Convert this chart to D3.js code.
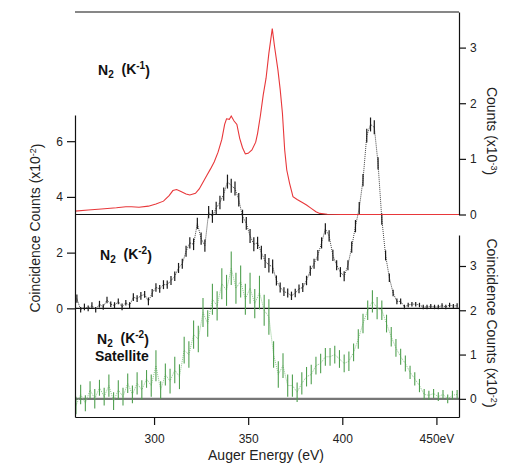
<!DOCTYPE html>
<html>
<head>
<meta charset="utf-8">
<script src="https://cdn.jsdelivr.net/npm/d3@7"></script>
<style>
  body { margin: 0; background: #fff; }
  svg { font-family: 'Liberation Sans', Arial, sans-serif; }
  .axis text { font-size: 12px; fill: #222; }
  .axis path, .axis line { stroke: #111; stroke-width: 1.2; }
</style>
</head>
<body>
<svg id="chart" width="505" height="466"></svg>
<script>
// N2 (K^-1) Auger spectrum, counts x10^-3
const redEnergy = [258, 265, 272, 280, 285, 288, 292, 297, 301, 305, 308, 310, 312, 314, 317, 319,
  322, 324, 326, 328, 330, 332, 334, 336, 337.5, 338.5, 340, 341, 342.5, 344, 345.5, 347, 348.5,
  350, 352, 354, 355, 356.5, 358, 359.5, 361, 362.8, 364, 365.8, 367, 368.2, 369.4, 370.5, 372,
  373.8, 376, 379, 381, 383.5, 386, 388, 392, 400, 462];
const redCounts = [0.06, 0.08, 0.10, 0.12, 0.14, 0.14, 0.13, 0.15, 0.19, 0.24, 0.34, 0.43, 0.45, 0.42, 0.37, 0.35,
  0.38, 0.46, 0.58, 0.70, 0.82, 0.95, 1.12, 1.35, 1.62, 1.72, 1.71, 1.77, 1.68, 1.62, 1.37, 1.20, 1.09,
  1.10, 1.16, 1.30, 1.46, 1.78, 2.15, 2.45, 2.90, 3.34, 3.02, 2.60, 2.25, 1.82, 1.16, 0.80, 0.56,
  0.32, 0.27, 0.21, 0.17, 0.11, 0.05, 0.02, 0.005, 0, 0];

// N2 (K^-2) coincidence counts x10^-2, 2 eV bins from 259 eV
const k2Start = 259, k2Step = 2;
const k2Counts = [
  0.35, -0.05, 0.05, 0.0, 0.1, -0.05, 0.15, 0.05, 0.3, 0.15,
  0.1, 0.25, 0.05, 0.2, 0.1, 0.4, 0.35, 0.45, 0.5, 0.25,
  0.55, 0.75, 0.7, 0.85, 0.85, 1.0, 1.15, 1.45, 1.6, 2.05,
  2.35, 2.3, 3.05, 2.5, 2.25, 3.45, 3.3, 3.6, 3.8, 4.1,
  4.55, 4.4, 4.3, 3.9, 3.3, 3.05, 2.6, 2.3, 2.35, 2.0,
  1.7, 1.55, 1.5, 1.0, 0.75, 0.6, 0.55, 0.45, 0.55, 0.7,
  0.75, 1.0, 1.35, 1.6, 1.9, 2.35, 2.85, 2.6, 1.9, 1.55,
  1.3, 1.15, 1.55, 2.2, 2.95, 3.6, 4.6, 6.2, 6.6, 6.5,
  5.2, 3.2, 1.9, 1.1, 0.55, 0.25, 0.25, 0.05, 0.12, 0.15,
  0.15, 0.12, 0.05, 0.05, 0.08, 0.05, 0.05, 0.1, 0.05, 0.12,
  0.08, 0.1];
const k2Errors = [
  0.15, 0.1, 0.12, 0.1, 0.12, 0.1, 0.12, 0.1, 0.12, 0.1,
  0.12, 0.1, 0.12, 0.1, 0.12, 0.14, 0.12, 0.14, 0.12, 0.14,
  0.14, 0.15, 0.14, 0.16, 0.15, 0.16, 0.17, 0.18, 0.18, 0.2,
  0.2, 0.21, 0.2, 0.22, 0.22, 0.22, 0.23, 0.23, 0.24, 0.24,
  0.25, 0.25, 0.25, 0.24, 0.24, 0.23, 0.25, 0.25, 0.22, 0.25,
  0.25, 0.26, 0.25, 0.18, 0.18, 0.16, 0.16, 0.15, 0.15, 0.16,
  0.16, 0.17, 0.18, 0.18, 0.19, 0.2, 0.2, 0.2, 0.2, 0.18,
  0.18, 0.18, 0.18, 0.2, 0.22, 0.22, 0.22, 0.25, 0.25, 0.25,
  0.22, 0.2, 0.18, 0.15, 0.12, 0.1, 0.1, 0.08, 0.08, 0.08,
  0.08, 0.08, 0.08, 0.08, 0.08, 0.08, 0.08, 0.08, 0.08, 0.08,
  0.08, 0.08];

// N2 (K^-2) satellite coincidence counts x10^-2, 2.5 eV bins from 258.5 eV
const satStart = 258.5, satStep = 2.5;
const satCounts = [
  -0.15, 0.1, -0.1, 0.2, 0.0, 0.25, 0.05, 0.3, -0.05, 0.2,
  0.05, 0.35, 0.1, 0.35, 0.2, 0.45, 0.3, 0.75, 0.2, 0.55,
  0.4, 0.65, 0.5, 1.1, 1.0, 1.45, 1.35, 1.95, 1.7, 2.25,
  2.1, 2.6, 2.45, 2.95, 2.5, 2.65, 2.25, 2.5, 2.15, 2.4,
  2.0, 1.85, 1.0, 0.55, 0.75, 0.3, 0.3, 0.15, 0.35, 0.5,
  0.55, 0.75, 0.8, 0.95, 0.95, 1.0, 0.9, 0.8, 0.85, 1.05,
  1.35, 1.7, 2.0, 2.2, 2.05, 2.0, 1.7, 1.4, 1.15, 0.95,
  0.8, 0.6, 0.45, 0.3, 0.1, 0.08, 0.12, 0.05, 0.1, 0.0,
  0.08, 0.1];
const satErrors = [
  0.2, 0.22, 0.18, 0.2, 0.22, 0.18, 0.2, 0.25, 0.2, 0.22,
  0.2, 0.22, 0.2, 0.25, 0.22, 0.2, 0.25, 0.35, 0.2, 0.25,
  0.28, 0.3, 0.28, 0.3, 0.3, 0.32, 0.3, 0.33, 0.3, 0.35,
  0.33, 0.35, 0.35, 0.38, 0.35, 0.36, 0.35, 0.35, 0.33, 0.38,
  0.35, 0.4, 0.3, 0.3, 0.28, 0.25, 0.25, 0.22, 0.25, 0.22,
  0.22, 0.2, 0.22, 0.2, 0.2, 0.2, 0.2, 0.2, 0.22, 0.2,
  0.22, 0.22, 0.22, 0.25, 0.25, 0.22, 0.2, 0.22, 0.2, 0.18,
  0.18, 0.15, 0.15, 0.15, 0.12, 0.1, 0.1, 0.1, 0.1, 0.1,
  0.1, 0.1];

const xTicks = [300, 350, 400, 450];
const redTicks = [0, 1, 2, 3];
const k2Ticks = [0, 2, 4, 6];
const satTicks = [0, 1, 2, 3];

const svg = d3.select('#chart');
const plotLeft = 75, plotRight = 459, plotTop = 12, plotBottom = 417;

const x = d3.scaleLinear().domain([258, 462]).range([plotLeft, plotRight]);
const yRed = d3.scaleLinear().domain([0, 3.64]).range([214.5, plotTop]);
const yK2 = d3.scaleLinear().domain([-3.9, 6.94]).range([plotBottom, 115]);
const ySat = d3.scaleLinear().domain([-0.41, 3.70]).range([plotBottom, 235]);

const red = redEnergy.map((e, i) => ({ e: e, v: redCounts[i] }));
const k2 = k2Counts.map((v, i) => ({ e: k2Start + i * k2Step, v: v, err: k2Errors[i] }));
const sat = satCounts.map((v, i) => ({ e: satStart + i * satStep, v: v, err: satErrors[i] }));

// frame line on top
svg.append('line')
  .attr('x1', plotLeft).attr('x2', plotRight).attr('y1', plotTop).attr('y2', plotTop)
  .attr('stroke', '#111').attr('stroke-width', 1.2);

// zero lines
svg.append('line')
  .attr('x1', plotLeft).attr('x2', plotRight).attr('y1', ySat(0)).attr('y2', ySat(0))
  .attr('stroke', '#777').attr('stroke-width', 2.2);
svg.append('line')
  .attr('x1', plotLeft).attr('x2', plotRight).attr('y1', yK2(0)).attr('y2', yK2(0))
  .attr('stroke', '#111').attr('stroke-width', 1.2);
svg.append('line')
  .attr('x1', plotLeft).attr('x2', plotRight).attr('y1', yRed(0)).attr('y2', yRed(0))
  .attr('stroke', '#111').attr('stroke-width', 1.2);

// satellite (green)
svg.append('path')
  .datum(sat)
  .attr('fill', 'none')
  .attr('stroke', '#8cc88c')
  .attr('stroke-width', 1)
  .attr('stroke-dasharray', '1,1')
  .attr('d', d3.line().x(d => x(d.e)).y(d => ySat(d.v)));
svg.append('g').selectAll('line')
  .data(sat)
  .join('line')
  .attr('x1', d => x(d.e)).attr('x2', d => x(d.e))
  .attr('y1', d => ySat(d.v - d.err)).attr('y2', d => ySat(d.v + d.err))
  .attr('stroke', '#4f9f4f')
  .attr('stroke-width', 1.1);

// K^-2 (black)
svg.append('path')
  .datum(k2)
  .attr('fill', 'none')
  .attr('stroke', '#444')
  .attr('stroke-width', 1)
  .attr('stroke-dasharray', '1,1')
  .attr('d', d3.line().x(d => x(d.e)).y(d => yK2(d.v)));
svg.append('g').selectAll('line')
  .data(k2)
  .join('line')
  .attr('x1', d => x(d.e)).attr('x2', d => x(d.e))
  .attr('y1', d => yK2(d.v - d.err)).attr('y2', d => yK2(d.v + d.err))
  .attr('stroke', '#1a1a1a')
  .attr('stroke-width', 1.2);

// K^-1 (red)
svg.append('path')
  .datum(red)
  .attr('fill', 'none')
  .attr('stroke', '#e8373a')
  .attr('stroke-width', 1.1)
  .attr('d', d3.line().x(d => x(d.e)).y(d => yRed(d.v)));

// axes
const intFmt = d3.format('d');

svg.append('g')
  .classed('axis', true)
  .attr('transform', 'translate(0,' + plotBottom + ')')
  .call(d3.axisBottom(x).tickValues(xTicks).tickSize(8).tickSizeOuter(0)
    .tickFormat(d => (d === 450 ? '450eV' : intFmt(d))))
  .call(g => g.selectAll('text').attr('dy', '1.25em'));

svg.append('g')
  .classed('axis', true)
  .attr('transform', 'translate(' + plotLeft + ',0)')
  .call(d3.axisLeft(yK2).tickValues(k2Ticks).tickSize(8).tickSizeOuter(0).tickFormat(intFmt))
  .call(g => g.selectAll('text').attr('x', -12));

svg.append('g')
  .classed('axis', true)
  .attr('transform', 'translate(' + plotRight + ',0)')
  .call(d3.axisRight(yRed).tickValues(redTicks).tickSize(7).tickSizeOuter(0).tickFormat(intFmt))
  .call(g => g.selectAll('text').attr('x', 11));

svg.append('g')
  .classed('axis', true)
  .attr('transform', 'translate(' + plotRight + ',0)')
  .call(d3.axisRight(ySat).tickValues(satTicks).tickSize(7).tickSizeOuter(0).tickFormat(intFmt))
  .call(g => g.selectAll('text').attr('x', 11));

// axis titles
svg.append('text')
  .attr('x', 266)
  .attr('y', 460)
  .attr('text-anchor', 'middle')
  .style('font-size', '14px')
  .style('fill', '#222')
  .text('Auger Energy (eV)');

const rotLabel = (cx, cy, angle, main, sup, tail) => {
  const t = svg.append('text')
    .attr('transform', 'translate(' + cx + ',' + cy + ') rotate(' + angle + ')')
    .attr('text-anchor', 'middle')
    .style('font-size', '14px')
    .style('fill', '#222');
  t.append('tspan').text(main);
  t.append('tspan').attr('dy', '-0.45em').style('font-size', '9px').text(sup);
  t.append('tspan').attr('dy', '0.45em').text(tail);
};
rotLabel(40, 228, -90, 'Coincidence Counts (x10', '-2', ')');
rotLabel(487, 131, 90, 'Counts (x10', '-3', ')');
rotLabel(487, 323, 90, 'Coincidence Counts (x10', '-2', ')');

// panel annotations
const tag = (x0, y0, sup) => {
  const t = svg.append('text')
    .attr('x', x0).attr('y', y0)
    .style('font-size', '14px')
    .style('font-weight', 'bold')
    .style('fill', '#111');
  t.append('tspan').text('N');
  t.append('tspan').attr('dy', '0.3em').style('font-size', '10px').text('2');
  t.append('tspan').attr('dy', '-0.3em').text('\u00a0 (K');
  t.append('tspan').attr('dy', '-0.5em').style('font-size', '10px').text(sup);
  t.append('tspan').attr('dy', '0.5em').text(')');
};
tag(98, 75, '-1');
tag(100, 260, '-2');
tag(97, 344, '-2');
svg.append('text')
  .attr('x', 95).attr('y', 361)
  .style('font-size', '14px')
  .style('font-weight', 'bold')
  .style('fill', '#111')
  .text('Satellite');
</script>
</body>
</html>
